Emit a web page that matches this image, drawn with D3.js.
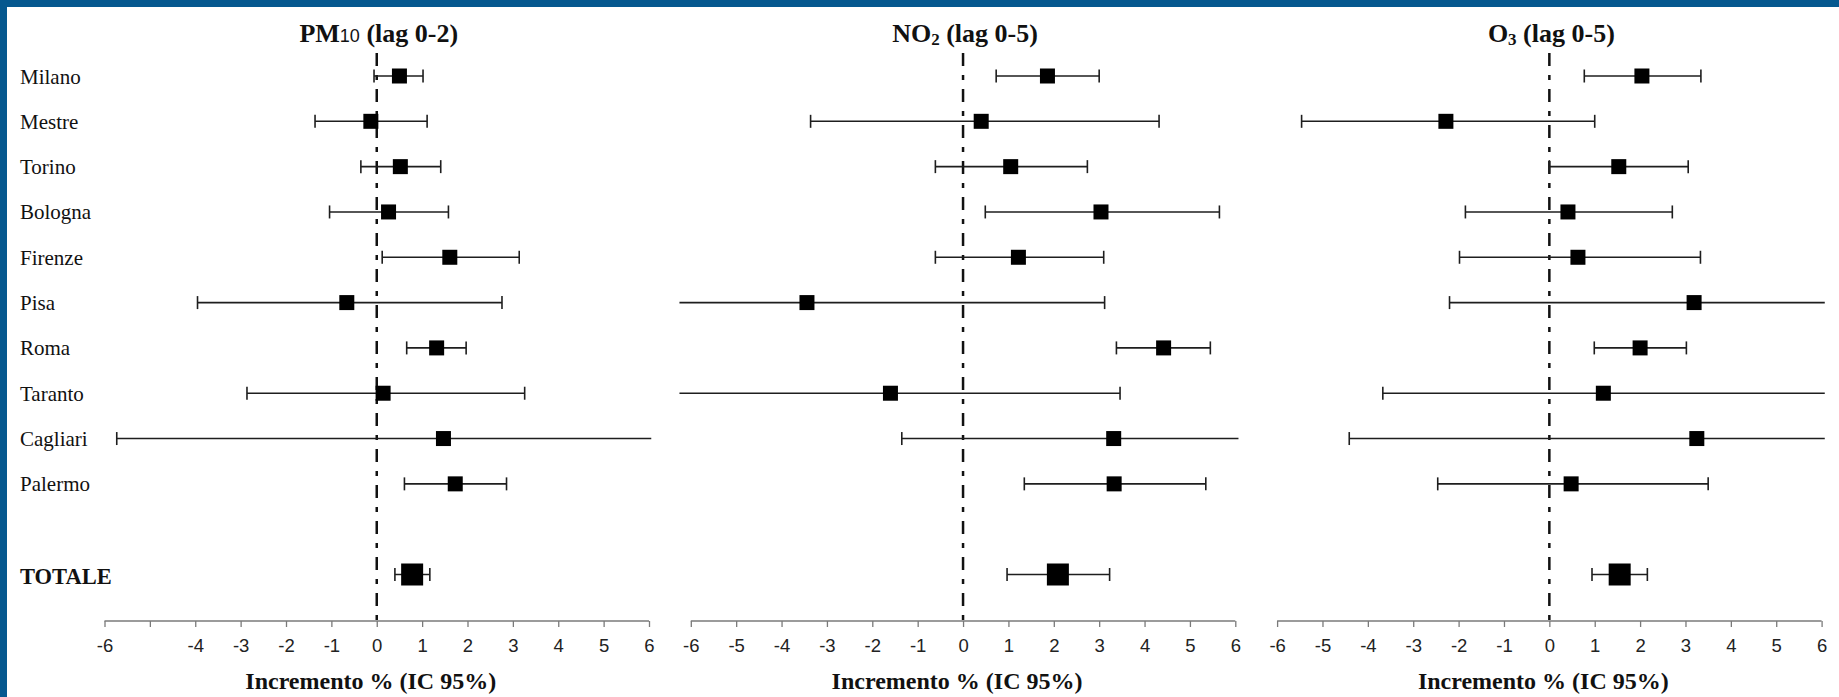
<!DOCTYPE html>
<html>
<head>
<meta charset="utf-8">
<script src="https://cdn.jsdelivr.net/npm/d3@7"></script>
<style>
  html, body { margin: 0; padding: 0; background: #fff; }
  svg { display: block; }
</style>
</head>
<body>
<svg id="chart"></svg>
<script>
// Cities (rows), then an empty spacer row and the pooled estimate
var cities = ["Milano", "Mestre", "Torino", "Bologna", "Firenze", "Pisa", "Roma", "Taranto", "Cagliari", "Palermo"];
var rows = cities.concat(["", "TOTALE"]);

// Tick labels for each panel (PM10 has no -5 label)
var ticks = [-6, -5, -4, -3, -2, -1, 0, 1, 2, 3, 4, 5, 6];
var pmTickLabels = ["-6", "", "-4", "-3", "-2", "-1", "0", "1", "2", "3", "4", "5", "6"];
var stdTickLabels = ["-6", "-5", "-4", "-3", "-2", "-1", "0", "1", "2", "3", "4", "5", "6"];

// % increase and 95% CI, cities first, TOTALE last (ends past +-6 are cut at the axis edge)
var pm10Est = [0.50, -0.13, 0.52, 0.26, 1.61, -0.66, 1.32, 0.14, 1.47, 1.73, 0.78];
var pm10Lo  = [-0.06, -1.36, -0.35, -1.04, 0.12, -3.95, 0.66, -2.86, -5.73, 0.61, 0.40];
var pm10Hi  = [1.02, 1.11, 1.41, 1.58, 3.14, 2.76, 1.97, 3.26, 6.05, 2.86, 1.17];

var no2Est = [1.86, 0.40, 1.05, 3.04, 1.22, -3.44, 4.42, -1.60, 3.32, 3.33, 2.09];
var no2Lo  = [0.73, -3.36, -0.61, 0.49, -0.61, -6.25, 3.38, -6.25, -1.35, 1.35, 0.97];
var no2Hi  = [3.00, 4.32, 2.74, 5.65, 3.10, 3.12, 5.45, 3.46, 6.07, 5.35, 3.23];

var o3Est = [2.04, -2.28, 1.53, 0.41, 0.63, 3.19, 2.00, 1.19, 3.25, 0.48, 1.55];
var o3Lo  = [0.77, -5.46, 0.00, -1.85, -1.98, -2.20, 0.99, -3.67, -4.41, -2.46, 0.94];
var o3Hi  = [3.34, 1.00, 3.06, 2.71, 3.33, 6.07, 3.02, 6.07, 6.07, 3.50, 2.16];

var panels = [
    { sym: "PM", sub: "10", subSans: true, lag: " (lag 0-2)", est: pm10Est, lo: pm10Lo, hi: pm10Hi, labels: pmTickLabels },
    { sym: "NO", sub: "2", subSans: false, lag: " (lag 0-5)", est: no2Est, lo: no2Lo, hi: no2Hi, labels: stdTickLabels },
    { sym: "O", sub: "3", subSans: false, lag: " (lag 0-5)", est: o3Est, lo: o3Lo, hi: o3Hi, labels: stdTickLabels }
];

// Chart area
var width = 1839, height = 697;
var panelLeft = 104.5, panelStep = 586.3, panelWidth = 544.5;
var axisY = 621;
var serif = "'Liberation Serif', 'Times New Roman', serif";
var sans = "'Liberation Sans', Arial, sans-serif";

var svg = d3.select("#chart")
    .attr("width", width)
    .attr("height", height);

svg.append("rect")
    .attr("width", width)
    .attr("height", height)
    .attr("fill", "white");

// Blue frame (top band and left edge)
svg.append("rect")
    .attr("x", 0).attr("y", 0)
    .attr("width", width).attr("height", 7)
    .attr("fill", "#05588f");
svg.append("rect")
    .attr("x", 0).attr("y", 0)
    .attr("width", 7).attr("height", height)
    .attr("fill", "#05588f");

// Rows
var y = d3.scalePoint()
    .domain(rows)
    .range([76, 574.5]);

// Row labels on the far left
svg.selectAll(".row-label")
    .data(rows.filter(function(d) { return d !== ""; }))
  .enter().append("text")
    .attr("class", "row-label")
    .attr("x", 20)
    .attr("y", function(d) { return y(d) + (d === "TOTALE" ? 9 : 7.5); })
    .attr("font-family", serif)
    .attr("font-size", function(d) { return d === "TOTALE" ? "22.5px" : "21px"; })
    .attr("font-weight", function(d) { return d === "TOTALE" ? "bold" : "normal"; })
    .attr("fill", "#111")
    .text(function(d) { return d; });

panels.forEach(function(p, i) {
    var left = panelLeft + i * panelStep;
    var x = d3.scaleLinear().domain([-6, 6]).range([left, left + panelWidth]);

    var data = rows.map(function(r, k) {
        if (r === "") return null;
        var idx = r === "TOTALE" ? cities.length : k;
        return { row: r, est: p.est[idx], lo: p.lo[idx], hi: p.hi[idx], total: r === "TOTALE" };
    }).filter(function(d) { return d !== null; });

    var g = svg.append("g").attr("class", "panel");

    // Panel title
    var title = g.append("text")
        .attr("x", x(0) + 2)
        .attr("y", 42)
        .attr("text-anchor", "middle")
        .attr("font-family", serif)
        .attr("font-weight", "bold")
        .attr("font-size", "26px")
        .attr("fill", "#111");
    title.append("tspan").text(p.sym);
    title.append("tspan")
        .attr("font-family", p.subSans ? sans : serif)
        .attr("font-weight", p.subSans ? "normal" : "bold")
        .attr("font-size", p.subSans ? "18px" : "17px")
        .attr("dy", p.subSans ? 0 : 3)
        .text(p.sub);
    title.append("tspan")
        .attr("dy", p.subSans ? 0 : -3)
        .text(p.lag);

    // X axis
    var axis = d3.axisBottom(x)
        .tickValues(ticks)
        .tickSize(6)
        .tickPadding(12)
        .tickFormat(function(d, k) { return p.labels[k]; });

    var ax = g.append("g")
        .attr("transform", "translate(0," + axisY + ")")
        .call(axis);
    ax.select(".domain")
        .attr("stroke", "#7a7a7a")
        .attr("stroke-width", 1.5)
        .attr("d", "M" + x(-6) + ",0H" + x(6));
    ax.selectAll(".tick line")
        .attr("stroke", "#7a7a7a")
        .attr("stroke-width", 1.3);
    ax.selectAll(".tick text")
        .attr("font-family", sans)
        .attr("font-size", "18.5px")
        .attr("fill", "#222");

    // Axis title
    g.append("text")
        .attr("x", x(0) - 6)
        .attr("y", 689)
        .attr("text-anchor", "middle")
        .attr("font-family", serif)
        .attr("font-weight", "bold")
        .attr("font-size", "24px")
        .attr("fill", "#111")
        .text("Incremento % (IC 95%)");

    // Reference line at zero
    g.append("line")
        .attr("x1", x(0)).attr("x2", x(0))
        .attr("y1", 53).attr("y2", axisY)
        .attr("stroke", "#111")
        .attr("stroke-width", 2.5)
        .attr("stroke-dasharray", "13,9,5,9");

    // Confidence intervals
    var bars = g.selectAll(".ci")
        .data(data)
      .enter().append("g")
        .attr("class", "ci");

    bars.append("line")
        .attr("x1", function(d) { return x(d.lo); })
        .attr("x2", function(d) { return x(d.hi); })
        .attr("y1", function(d) { return y(d.row); })
        .attr("y2", function(d) { return y(d.row); })
        .attr("stroke", "#1e1e1e")
        .attr("stroke-width", 1.6);

    // End caps, only where the interval ends inside the axis range
    bars.selectAll(".cap")
        .data(function(d) {
            return [d.lo, d.hi].filter(function(v) { return Math.abs(v) <= 6; })
                .map(function(v) { return { v: v, row: d.row }; });
        })
      .enter().append("line")
        .attr("class", "cap")
        .attr("x1", function(d) { return x(d.v); })
        .attr("x2", function(d) { return x(d.v); })
        .attr("y1", function(d) { return y(d.row) - 6.5; })
        .attr("y2", function(d) { return y(d.row) + 6.5; })
        .attr("stroke", "#1e1e1e")
        .attr("stroke-width", 1.6);

    // Point estimates
    bars.append("rect")
        .attr("x", function(d) { return x(d.est) - (d.total ? 11 : 7.5); })
        .attr("y", function(d) { return y(d.row) - (d.total ? 11 : 7.5); })
        .attr("width", function(d) { return d.total ? 22 : 15; })
        .attr("height", function(d) { return d.total ? 22 : 15; })
        .attr("fill", "#000");
});
</script>
</body>
</html>
